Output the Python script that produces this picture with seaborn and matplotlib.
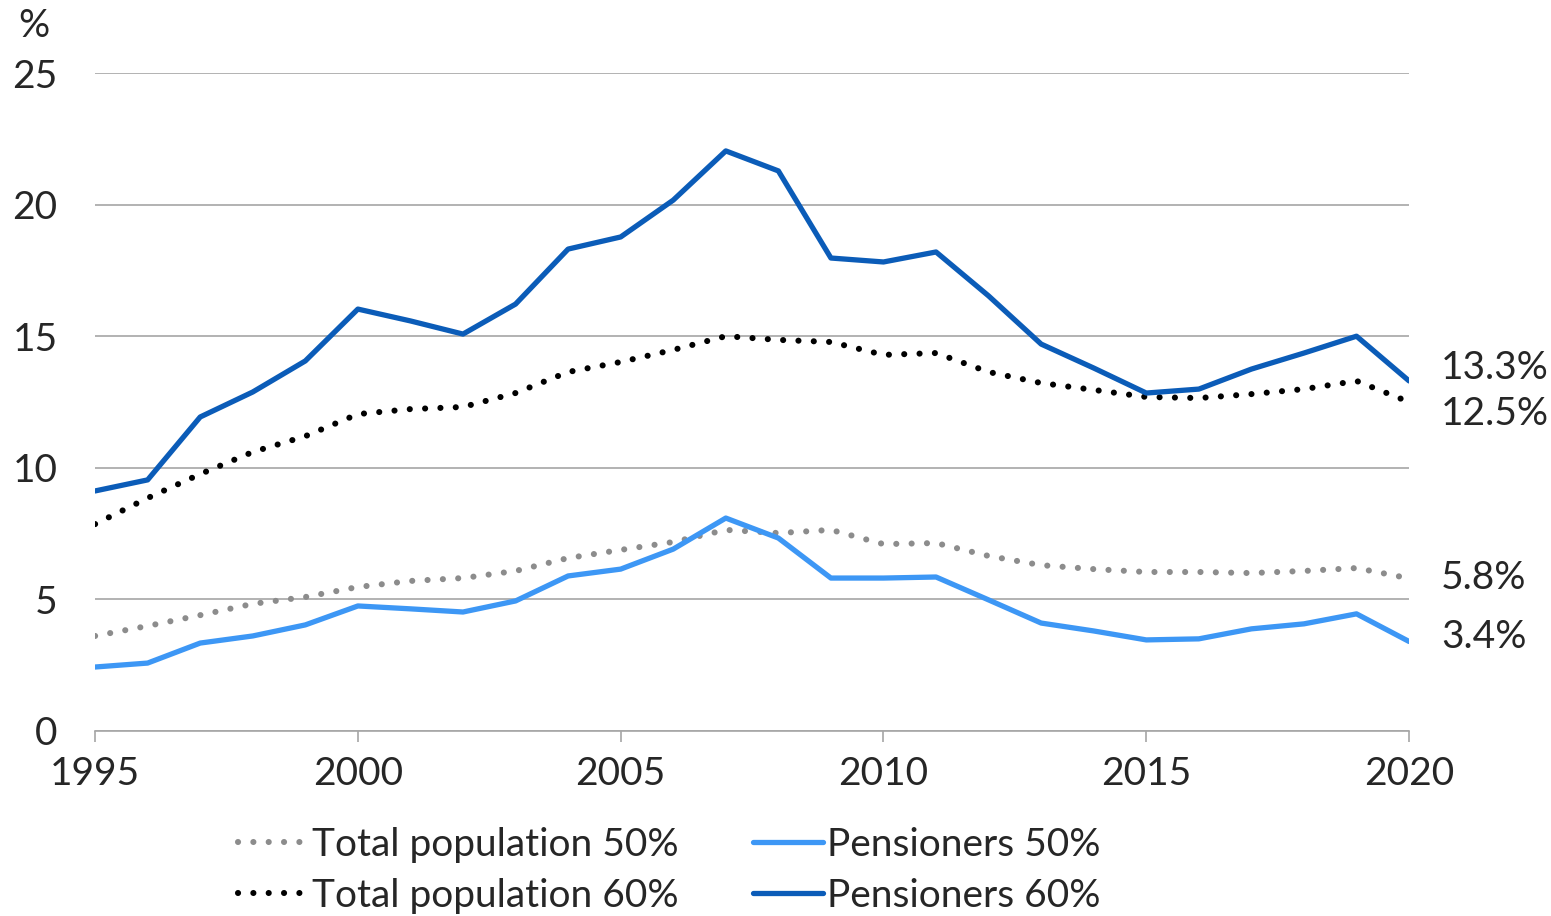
import matplotlib.pyplot as plt
import numpy as np
import pandas as pd
import seaborn as sns

years = list(range(1995, 2021))

total_50 = [3.61, 3.99, 4.40, 4.83, 5.09, 5.47, 5.70, 5.81, 6.08, 6.57, 6.88, 7.18, 7.64,
            7.52, 7.64, 7.10, 7.14, 6.65, 6.30, 6.15, 6.04, 6.04, 6.00, 6.08, 6.19, 5.80]
total_60 = [7.86, 8.85, 9.76, 10.60, 11.20, 12.04, 12.23, 12.31, 12.84, 13.64, 14.02, 14.48, 15.00,
            14.86, 14.78, 14.29, 14.36, 13.64, 13.22, 12.96, 12.69, 12.65, 12.80, 12.99, 13.30, 12.50]
pens_50 = [2.43, 2.58, 3.34, 3.61, 4.03, 4.75, 4.64, 4.52, 4.94, 5.89, 6.15, 6.91, 8.09,
           7.33, 5.81, 5.81, 5.85, 4.98, 4.10, 3.80, 3.46, 3.50, 3.88, 4.07, 4.45, 3.40]
pens_60 = [9.12, 9.54, 11.93, 12.88, 14.06, 16.03, 15.58, 15.08, 16.22, 18.31, 18.77, 20.17, 22.04,
           21.28, 17.97, 17.82, 18.20, 16.53, 14.70, 13.79, 12.84, 12.99, 13.75, 14.36, 15.00, 13.30]

series_names = ["Total population 50%", "Total population 60%", "Pensioners 50%", "Pensioners 60%"]
end_labels = ["5.8%", "12.5%", "3.4%", "13.3%"]

sns.set_style("white")
plt.rcParams['font.family'] = ['Lato', 'DejaVu Sans']
FS = 28

fig = plt.figure(figsize=(15.51, 9.16), dpi=100)
ax = fig.add_axes([0.0613, 0.202, 0.8472, 0.7183])

df = pd.DataFrame({"year": years, series_names[0]: total_50, series_names[1]: total_60,
                   series_names[2]: pens_50, series_names[3]: pens_60})

styles = {
    series_names[0]: dict(color="#8C8C8C", lw=4.4, ls=(0, (0.01, 2.5)), dash_capstyle="round"),
    series_names[1]: dict(color="#000000", lw=4.4, ls=(0, (0.01, 2.5)), dash_capstyle="round"),
    series_names[2]: dict(color="#3D97F5", lw=3.8, ls="-", solid_capstyle="round"),
    series_names[3]: dict(color="#0B5CB8", lw=3.8, ls="-", solid_capstyle="round"),
}

for name in series_names:
    st = styles[name]
    sns.lineplot(data=df, x="year", y=name, ax=ax, label=name, color=st["color"],
                 linewidth=st["lw"], linestyle=st["ls"],
                 **{k: v for k, v in st.items() if k.endswith("capstyle")})

ax.set_xlim(1995, 2020)
ax.set_ylim(0, 25)
ax.set_xticks(range(1995, 2021, 5))
ax.set_yticks(range(0, 26, 5))
ax.yaxis.grid(True, color="#A6A6A6", linewidth=1.2)
ax.set_axisbelow(True)
ax.set_xlabel("")
ax.set_ylabel("")
for s in ["top", "right", "left"]:
    ax.spines[s].set_visible(False)
ax.spines["bottom"].set_color("#A6A6A6")
ax.spines["bottom"].set_linewidth(1.2)
ax.tick_params(axis="x", direction="out", length=8, width=1.2, color="#A6A6A6",
               labelsize=FS, pad=10, bottom=True)
ax.tick_params(axis="y", length=0, labelsize=FS, pad=27)

# labels at the right end of each series, nudged apart (in points)
nudge = {"5.8%": 0, "12.5%": -9, "3.4%": 3, "13.3%": 9}
for name, lab in zip(series_names, end_labels):
    ax.annotate(lab, xy=(2020, df[name].iloc[-1]), xytext=(23, nudge[lab]),
                textcoords="offset points", fontsize=FS, va="center", ha="left",
                annotation_clip=False)

fig.text(0.012, 0.972, "%", fontsize=FS, va="center", ha="left")

handles, labels = ax.get_legend_handles_labels()
ax.legend(handles, labels, ncol=2, loc="upper center", bbox_to_anchor=(0.437, -0.092),
          frameon=False, fontsize=FS, handlelength=1.8, handletextpad=0.12,
          columnspacing=1.9, labelspacing=0.4)

fig.savefig("out.png", dpi=100)
